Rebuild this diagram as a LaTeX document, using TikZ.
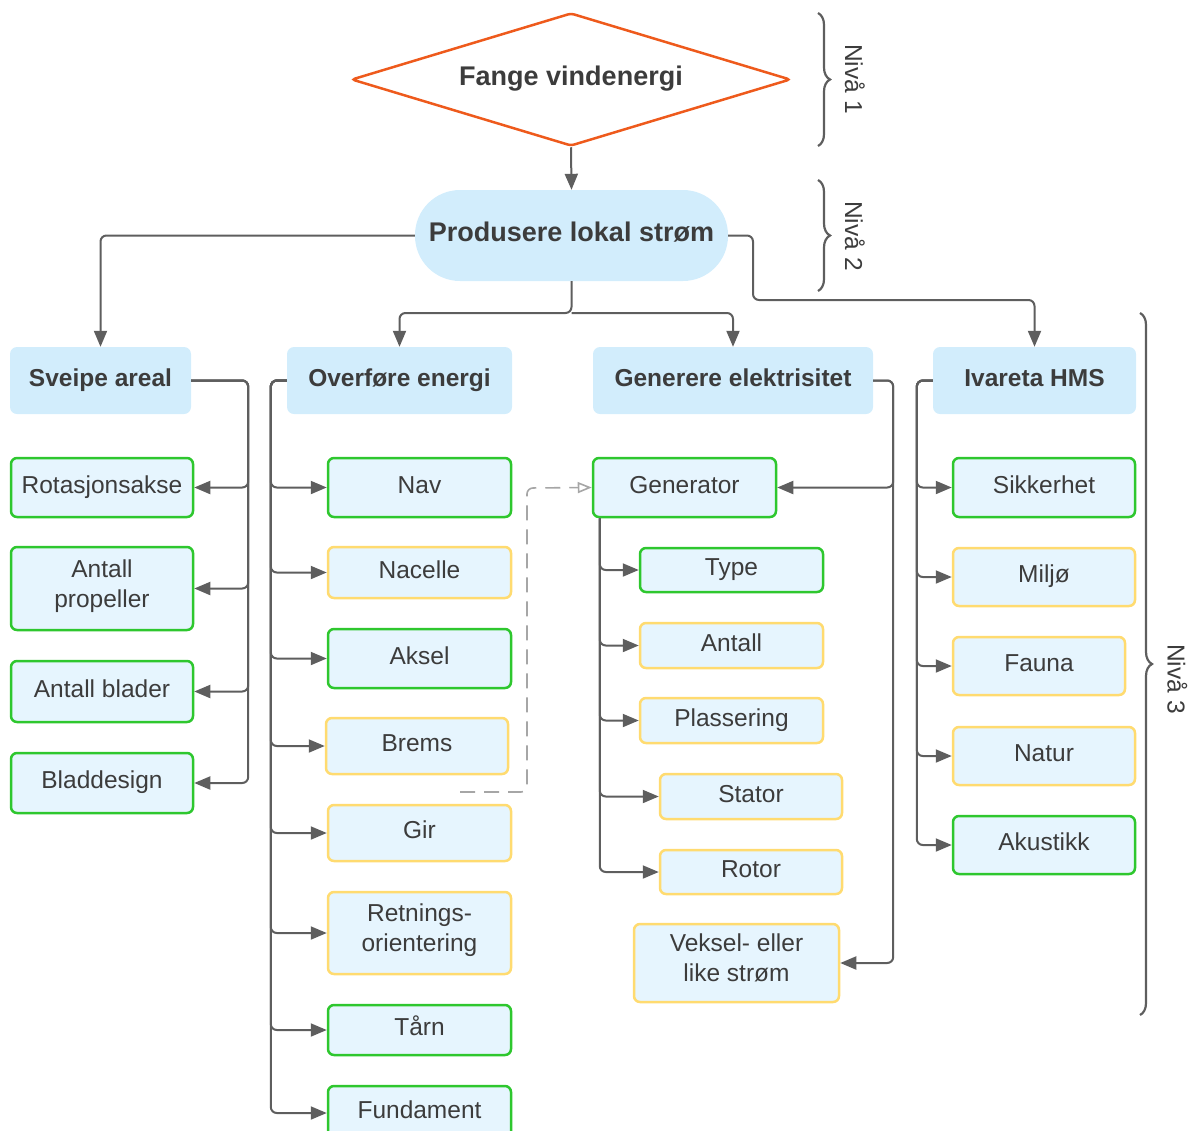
\documentclass[tikz,border=0pt]{standalone}
\usepackage{fontspec}
\setmainfont{Liberation Sans}
\usepackage[usenames,dvipsnames]{xcolor}
\usetikzlibrary{shapes,arrows.meta,decorations.pathreplacing}

\definecolor{ink}{HTML}{3C3C3C}
\definecolor{wire}{HTML}{5E5E5E}
\definecolor{goalred}{HTML}{EE5A1C}
\definecolor{skyfill}{HTML}{D2EDFC}
\definecolor{paleblue}{HTML}{E6F5FE}
\definecolor{leafgreen}{HTML}{2EC72E}
\definecolor{leafyellow}{HTML}{FFDB70}

\newcommand{\boxstrut}{\rule[-10pt]{0pt}{31pt}}

\begin{document}
\begin{tikzpicture} [x=1pt, y=-1pt,
				goal/.style={
				% The shape:
				diamond, rounded corners=3pt,
				% The size:
      				minimum width=439pt, minimum height=133pt, aspect=3.3,
				% The border:
      				line width=2.5pt, draw=goalred,
				font=\fontsize{27}{32}\selectfont\bfseries
    				},
				main/.style={
				% The shape:
				rectangle, rounded corners=45pt,
				% The size:
      				minimum width=313pt, minimum height=91pt,
      				% The filling:
				fill=skyfill,
				font=\fontsize{27}{32}\selectfont\bfseries
    				},
				group/.style={
				% The shape:
				rectangle, rounded corners=7pt,
				% The size:
      				minimum height=67pt,
      				% The filling:
				fill=skyfill,
				font=\fontsize{24.5}{30}\selectfont\bfseries
    				},
				known/.style={
				% The shape:
				rectangle, rounded corners=6pt,
				% The border:
      				line width=2.5pt, draw=leafgreen,
      				% The filling:
				fill=paleblue,
				font=\fontsize{24.5}{30}\selectfont
    				},
				pending/.style={
				% The shape:
				rectangle, rounded corners=6pt,
				% The border:
      				line width=2.5pt, draw=leafyellow,
      				% The filling:
				fill=paleblue,
				font=\fontsize{24.5}{30}\selectfont
    				},
				link/.style={draw=wire, line width=2pt, rounded corners=6pt,
				-{Triangle[length=16pt,width=13pt]}},
				hint/.style={draw=gray!70, line width=1.6pt, dash pattern=on 15pt off 9pt,
				-{Triangle[open,length=14pt,width=11pt]}},
				level/.style={draw=wire, line width=2.2pt,
				decorate, decoration={brace, amplitude=12pt}},
				]
    \tikzstyle{every node} = [align=center, text=ink, inner sep=0pt,
        execute at begin node=\boxstrut, execute at end node=\boxstrut]
    \useasboundingbox (0,0) rectangle (1193,1130);

    % levels 1 and 2
    \node [goal] (fange) at (571,79.5) {Fange vindenergi};
    \node [main] (prod) at (571.5,235.5) {Produsere lokal strøm};

    \node [group, minimum width=181pt] (sveipe) at (100.5,380.5) {Sveipe areal};
    \node [group, minimum width=225pt] (overfore) at (399.5,380.5) {Overføre energi};
    \node [group, minimum width=280pt] (generere) at (733,380.5) {Generere elektrisitet};
    \node [group, minimum width=203pt] (ivareta) at (1034.5,380.5) {Ivareta HMS};

    % swept area
    \node [known, minimum width=182pt, minimum height=59pt] (rot) at (102,487.5) {Rotasjonsakse};
    \node [known, minimum width=182pt, minimum height=83pt] (antprop) at (102,588.5) {Antall\\propeller};
    \node [known, minimum width=182pt, minimum height=61pt] (antblad) at (102,691.5) {Antall blader};
    \node [known, minimum width=182pt, minimum height=60pt] (blad) at (102,783) {Bladdesign};

    % power train
    \node [known, minimum width=183pt, minimum height=59pt] (nav) at (419.5,487.5) {Nav};
    \node [pending, minimum width=183pt, minimum height=51pt] (nacelle) at (419.5,572.5) {Nacelle};
    \node [known, minimum width=183pt, minimum height=59pt] (aksel) at (419.5,658.5) {Aksel};
    \node [pending, minimum width=182pt, minimum height=56pt] (brems) at (417,746) {Brems};
    \node [pending, minimum width=183pt, minimum height=56pt] (gir) at (419.5,833) {Gir};
    \node [pending, minimum width=183pt, minimum height=82pt] (retn) at (419.5,933) {Retnings-\\orientering};
    \node [known, minimum width=183pt, minimum height=50pt] (taarn) at (419.5,1030) {Tårn};
    \node [known, minimum width=183pt, minimum height=54pt] (fund) at (419.5,1113) {Fundament};

    % electricity
    \node [known, minimum width=183pt, minimum height=59pt] (gen) at (684.5,487.5) {Generator};
    \node [known, minimum width=183pt, minimum height=44pt] (type) at (731.5,570) {Type};
    \node [pending, minimum width=183pt, minimum height=45pt] (antall) at (731.5,645.5) {Antall};
    \node [pending, minimum width=183pt, minimum height=45pt] (plass) at (731.5,720.5) {Plassering};
    \node [pending, minimum width=182pt, minimum height=45pt] (stator) at (751,796.5) {Stator};
    \node [pending, minimum width=182pt, minimum height=44pt] (rotor) at (751,872) {Rotor};
    \node [pending, minimum width=205pt, minimum height=78pt] (veksel) at (736.5,963) {Veksel- eller\\like strøm};

    % HSE
    \node [known, minimum width=182pt, minimum height=59pt] (sikk) at (1044,487.5) {Sikkerhet};
    \node [pending, minimum width=182pt, minimum height=58pt] (miljo) at (1044,577) {Miljø};
    \node [pending, minimum width=172pt, minimum height=58pt] (fauna) at (1039,666) {Fauna};
    \node [pending, minimum width=182pt, minimum height=58pt] (natur) at (1044,756) {Natur};
    \node [known, minimum width=182pt, minimum height=58pt] (akust) at (1044,845) {Akustikk};

    % connectors
    \coordinate (split) at (571.5,313);
    \coordinate (hmsknee) at (753,300);
    \draw [link] (fange.south) -- (prod.north);
    \draw [link] (prod.west) -| (sveipe.north);
    \draw [link] (prod.south) -- (split) -| (overfore.north);
    \draw [link] (split) -| (generere.north);
    \draw [link] (prod.east) -| (hmsknee) -| (ivareta.north);

    \foreach \leaf in {rot,antprop,antblad,blad}
      \draw [link] (sveipe.east) -- ++(57,0) |- (\leaf.east);
    \foreach \leaf in {nav,nacelle,aksel,brems,gir,retn,taarn,fund}
      \draw [link] (overfore.west) -- ++(-16,0) |- (\leaf.west);
    \foreach \leaf in {gen,veksel}
      \draw [link] (generere.east) -- ++(20,0) |- (\leaf.east);
    \foreach \leaf in {type,antall,plass,stator,rotor}
      \draw [link] ([xshift=8pt]gen.south west) |- (\leaf.west);
    \foreach \leaf in {sikk,miljo,fauna,natur,akust}
      \draw [link] (ivareta.west) -- ++(-16,0) |- (\leaf.west);

    \coordinate (hintfrom) at (460,792);
    \coordinate (hintturn) at (527,488);
    \draw [hint, rounded corners=6pt] (hintfrom) -| (hintturn) -- (gen.west);

    % levels
    \draw [level] (818,13) -- (818,146);
    \draw [level] (818,180) -- (818,291);
    \draw [level] (1140,313) -- (1140,1015);
    \node [rotate=-90, font=\fontsize{24.5}{30}\selectfont] (niva1) at (850.5,79) {Nivå 1};
    \node [rotate=-90, font=\fontsize{24.5}{30}\selectfont] (niva2) at (850.5,236) {Nivå 2};
    \node [rotate=-90, font=\fontsize{24.5}{30}\selectfont] (niva3) at (1173,679) {Nivå 3};
\end{tikzpicture}
\end{document}
